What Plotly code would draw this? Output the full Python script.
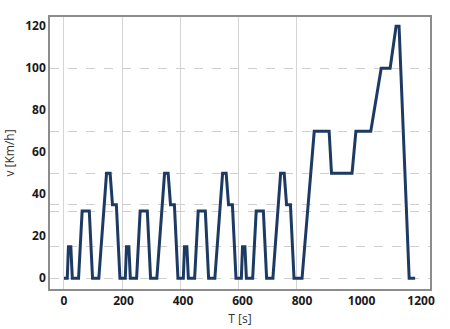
import plotly.graph_objects as go

time_s = [0, 11, 15, 23, 28, 49, 61, 85, 96, 117, 143, 155, 163, 176, 188,
          195, 206, 210, 218, 223, 244, 256, 280, 291, 312, 338, 350, 358, 371, 383,
          390, 401, 405, 413, 418, 439, 451, 475, 486, 507, 533, 545, 553, 566, 578,
          585, 596, 600, 608, 613, 634, 646, 670, 681, 702, 728, 740, 748, 761, 773,
          780, 800, 841, 891, 899, 968, 981, 1031, 1066, 1096, 1116, 1126, 1160, 1180]
speed_kmh = [0, 0, 15, 15, 0, 0, 32, 32, 0, 0, 50, 50, 35, 35, 0,
             0, 0, 15, 15, 0, 0, 32, 32, 0, 0, 50, 50, 35, 35, 0,
             0, 0, 15, 15, 0, 0, 32, 32, 0, 0, 50, 50, 35, 35, 0,
             0, 0, 15, 15, 0, 0, 32, 32, 0, 0, 50, 50, 35, 35, 0,
             0, 0, 70, 70, 50, 50, 70, 70, 100, 100, 120, 120, 0, 0]

x_ticks = [0, 200, 400, 600, 800, 1000, 1200]
y_ticks = [0, 20, 40, 60, 80, 100, 120]
cycle_bounds = [0, 195, 390, 585, 780]
speed_levels = [0, 15, 32, 35, 50, 70, 100]

x_range = [-47, 1230]
y_range = [-5.1, 124.4]

fig = go.Figure()
fig.add_trace(go.Scatter(x=time_s, y=speed_kmh, mode="lines",
                         line=dict(color="#1d3a63", width=3),
                         showlegend=False, hoverinfo="skip"))
# invisible trace to activate overlay axes for grid lines
fig.add_trace(go.Scatter(x=[None], y=[None], xaxis="x2", yaxis="y2",
                         showlegend=False, hoverinfo="skip"))

tickfont = dict(family="Open Sans", size=12, color="#1a1a1a", weight="bold")
fig.update_layout(
    width=450, height=329,
    margin=dict(l=50, r=20, t=17, b=40),
    paper_bgcolor="white", plot_bgcolor="white",
    xaxis=dict(range=x_range, tickvals=x_ticks, showgrid=False, zeroline=False,
               showline=True, linecolor="#8c8c8c", linewidth=1.5, mirror=True,
               ticks="", tickfont=tickfont, automargin=False,
               title=dict(text="T [s]", font=dict(family="Open Sans", size=12, color="#333333"),
                          standoff=6)),
    yaxis=dict(range=y_range, tickvals=y_ticks, showgrid=False, zeroline=False,
               showline=True, linecolor="#8c8c8c", linewidth=1.5, mirror=True,
               ticks="", tickfont=tickfont, automargin=False,
               title=dict(text="v [Km/h]", font=dict(family="Open Sans", size=12, color="#333333"),
                          standoff=8)),
    xaxis2=dict(range=x_range, overlaying="x", tickvals=cycle_bounds, showticklabels=False,
                showgrid=True, gridcolor="#d4d4d4", gridwidth=1, zeroline=False,
                showline=False, ticks="", automargin=False),
    yaxis2=dict(range=y_range, overlaying="y", tickvals=speed_levels, showticklabels=False,
                showgrid=True, gridcolor="#cfcfcf", gridwidth=1, griddash="dash",
                zeroline=False, showline=False, ticks="", automargin=False),
)

fig.write_html("out.html")
